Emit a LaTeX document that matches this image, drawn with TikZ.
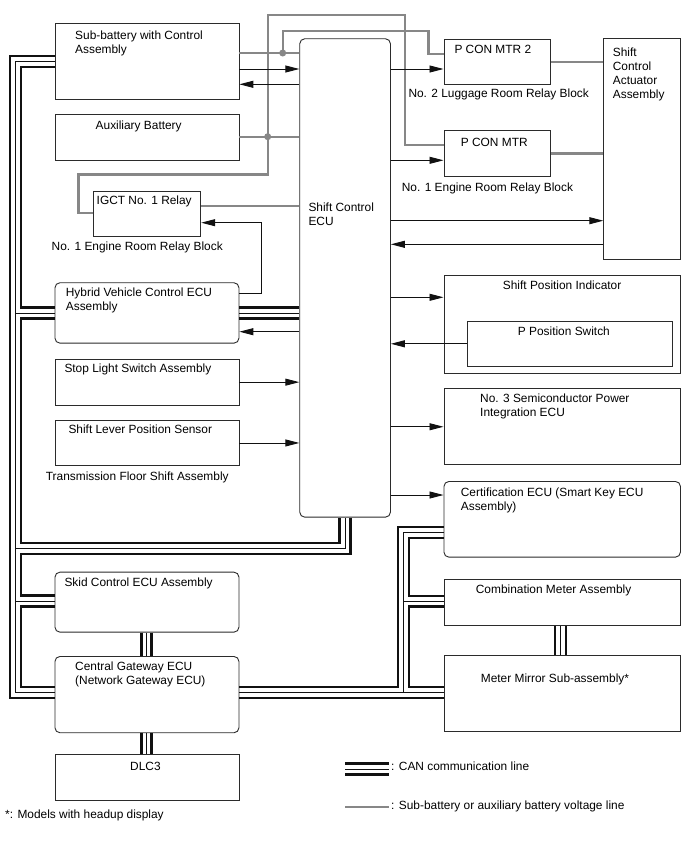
\documentclass[tikz,border=0pt]{standalone}
\usepackage{fontspec}
\setmainfont{Liberation Sans}
\usepackage{xcolor}
\usepackage{tikz}
\usetikzlibrary{arrows.meta}
\definecolor{voltgray}{HTML}{878787}
\definecolor{wireblack}{HTML}{111111}
\definecolor{framegray}{HTML}{2B2B2B}
\tikzset{
  unitbox/.style={rectangle,draw=framegray,line width=0.9pt,anchor=north west,inner sep=0pt},
  ecubox/.style={unitbox,rounded corners=5pt},
  boxtext/.style={anchor=base west,inner sep=0pt,align=left,font={\fontsize{11.9}{14}\selectfont}},
  keytext/.style={boxtext,inner xsep=2.5pt},
  arrow/.style={-{Triangle[length=14pt,width=7pt]},line width=0.9pt,draw=wireblack},
  voltline/.style={line width=2.4pt,draw=voltgray},
  canwide/.style={line width=2.2pt,draw=wireblack},
  canthin/.style={line width=1pt,draw=wireblack},
  junction/.style={circle,fill=voltgray,inner sep=0pt,minimum size=7pt}
}

\begin{document}
\begin{tikzpicture}[x=1pt,y=-1pt]
\useasboundingbox[fill=white] (0,0) rectangle (688,852);

\node[unitbox,minimum width=184,minimum height=76] (sub) at (54.5,23.3) {};
\node[unitbox,minimum width=184,minimum height=46] (aux) at (54.5,114.3) {};
\node[unitbox,minimum width=107,minimum height=45.6] (igct) at (93.3,190.7) {};
\node[ecubox,minimum width=90.7,minimum height=478.4] (ecu) at (299.3,38.3) {};
\node[unitbox,minimum width=106.7,minimum height=45.3] (pcm2) at (443.5,38.7) {};
\node[unitbox,minimum width=106.7,minimum height=45.4] (pcm) at (443.5,130.3) {};
\node[unitbox,minimum width=76.7,minimum height=221] (act) at (603.3,38) {};
\node[ecubox,minimum width=184,minimum height=60.4] (hv) at (54.5,282.3) {};
\node[unitbox,minimum width=184,minimum height=46] (stop) at (54.5,358.7) {};
\node[unitbox,minimum width=184,minimum height=45.6] (lever) at (54.5,419.7) {};
\node[unitbox,minimum width=236.5,minimum height=98.3] (spi) at (443.5,275) {};
\node[unitbox,minimum width=205.6,minimum height=45.3] (pps) at (466.7,320.7) {};
\node[unitbox,minimum width=236.5,minimum height=76] (semi) at (443.5,388.3) {};
\node[ecubox,minimum width=236.5,minimum height=75.7] (cert) at (443.5,481) {};
\node[ecubox,minimum width=184,minimum height=60] (skid) at (54.5,571.7) {};
\node[ecubox,minimum width=184,minimum height=76.3] (gw) at (54.5,656) {};
\node[unitbox,minimum width=184,minimum height=45.7] (dlc) at (54.5,754.3) {};
\node[unitbox,minimum width=236.5,minimum height=45.7] (comb) at (443.5,579.3) {};
\node[unitbox,minimum width=236.5,minimum height=76] (mirror) at (443.5,655) {};

\node[boxtext] (sub-t) at (75,53.3) {Sub-battery with Control\\Assembly};
\node[boxtext] (aux-t) at (95.5,129.6) {Auxiliary Battery};
\node[boxtext] (igct-t) at (96.5,204.3) {IGCT No. 1 Relay};
\node[boxtext] (igct-c) at (51.5,250.3) {No. 1 Engine Room Relay Block};
\node[boxtext] (ecu-t) at (308.3,225.6) {Shift Control\\ECU};
\node[boxtext] (pcm2-t) at (454.3,53.6) {P CON MTR 2};
\node[boxtext] (pcm2-c) at (408.3,97) {No. 2 Luggage Room Relay Block};
\node[boxtext] (pcm-t) at (460.7,146.6) {P CON MTR};
\node[boxtext] (pcm-c) at (401.7,191.6) {No. 1 Engine Room Relay Block};
\node[boxtext] (act-t) at (612.7,98.5) {Shift\\Control\\Actuator\\Assembly};
\node[boxtext] (hv-t) at (65.7,310.6) {Hybrid Vehicle Control ECU\\Assembly};
\node[boxtext] (stop-t) at (64.3,372.6) {Stop Light Switch Assembly};
\node[boxtext] (lever-t) at (68.3,433.3) {Shift Lever Position Sensor};
\node[boxtext] (lever-c) at (45.7,480.3) {Transmission Floor Shift Assembly};
\node[boxtext] (spi-t) at (502.7,289.3) {Shift Position Indicator};
\node[boxtext] (pps-t) at (517.7,335.3) {P Position Switch};
\node[boxtext] (semi-t) at (480,416.6) {No. 3 Semiconductor Power\\Integration ECU};
\node[boxtext] (cert-t) at (460.7,510.6) {Certification ECU (Smart Key ECU\\Assembly)};
\node[boxtext] (skid-t) at (64.3,586.6) {Skid Control ECU Assembly};
\node[boxtext] (gw-t) at (75,684.3) {Central Gateway ECU\\(Network Gateway ECU)};
\node[boxtext] (dlc-t) at (130,770) {DLC3};
\node[boxtext] (comb-t) at (475.7,593.6) {Combination Meter Assembly};
\node[boxtext] (mirror-t) at (480.7,682) {Meter Mirror Sub-assembly*};
\node[keytext] (cankey) at (388.5,770.3) {: CAN communication line};
\node[keytext] (voltkey) at (388.5,809.3) {: Sub-battery or auxiliary battery voltage line};
\node[boxtext] (note) at (5,818.3) {*: Models with headup display};

\draw[voltline] (sub.east |- 0,53) -- (ecu.west |- 0,53);
\draw[voltline] (aux.east |- 0,136.7) -- (ecu.west |- 0,136.7);
\draw[voltline] (igct.east |- 0,206) -- (ecu.west |- 0,206);
\draw[voltline] (pcm2.east) -- (pcm2.east -| act.west);
\draw[voltline] (pcm.east) -- (pcm.east -| act.west);
\draw[voltline] (igct.west |- 0,212.7) -| (78.3,174.3) -| (267.7,15) -| (405,145) -- (pcm.west |- 0,145);
\node[junction] (j1) at (282.7,53) {};
\node[junction] (j2) at (267.7,136.7) {};
\draw[voltline] (j1.center) |- (428.3,31) |- (pcm2.west |- 0,54);

\draw[arrow] (sub.east |- 0,69) -- (ecu.west |- 0,69);
\draw[arrow] (ecu.west |- 0,84.3) -- (sub.east |- 0,84.3);
\draw[arrow] (ecu.east |- 0,69) -- (pcm2.west |- 0,69);
\draw[arrow] (ecu.east |- 0,160.3) -- (pcm.west |- 0,160.3);
\draw[arrow] (ecu.east |- 0,220.7) -- (act.west |- 0,220.7);
\draw[arrow] (act.west |- 0,244.3) -- (ecu.east |- 0,244.3);
\draw[arrow] (hv.east |- 0,293.3) -| (261,222.7) -- (igct.east |- 0,222.7);
\draw[arrow] (ecu.west |- 0,331.7) -- (hv.east |- 0,331.7);
\draw[arrow] (stop.east) -- (stop.east -| ecu.west);
\draw[arrow] (lever.east) -- (lever.east -| ecu.west);
\draw[arrow] (ecu.east |- 0,297.3) -- (spi.west |- 0,297.3);
\draw[arrow] (pps.west) -- (pps.west -| ecu.east);
\draw[arrow] (ecu.east |- semi.west) -- (semi.west);
\draw[arrow] (ecu.east |- 0,495) -- (cert.west |- 0,495);

\draw[canwide] (sub.west |- 0,56) -| (10,698) -- (gw.west |- 0,698);
\draw[canthin] (sub.west |- 0,61.5) -| (15.5,692.5) -- (gw.west |- 0,692.5);
\draw[canthin] (15.5,313) -- (hv.west |- 0,313);
\draw[canthin] (15.5,548.5) -| (ecu.south -| 345,0);
\draw[canthin] (15.5,601) -- (skid.west |- 0,601);
\draw[canwide] (sub.west |- 0,67) -| (21,307.5) -- (hv.west |- 0,307.5);
\draw[canwide] (hv.west |- 0,318.5) -| (21,543) -| (ecu.south -| 339.5,0);
\draw[canwide] (ecu.south -| 350.5,0) |- (21,554) |- (skid.west |- 0,595.5);
\draw[canwide] (skid.west |- 0,606.5) -| (21,687) -- (gw.west |- 0,687);
\foreach \y/\w in {307.5/canwide,313/canthin,318.5/canwide}
  \draw[\w] (hv.east |- 0,\y) -- (ecu.west |- 0,\y);
\foreach \x/\w in {141.5/canwide,146.5/canthin,151.5/canwide} {
  \draw[\w] (skid.south -| \x,0) -- (gw.north -| \x,0);
  \draw[\w] (gw.south -| \x,0) -- (dlc.north -| \x,0);
}
\foreach \x/\w in {555/canwide,560.5/canthin,566/canwide}
  \draw[\w] (comb.south -| \x,0) -- (mirror.north -| \x,0);
\draw[canwide] (gw.east |- 0,687) -| (398,527) -- (cert.west |- 0,527);
\draw[canthin] (gw.east |- 0,692.5) -- (mirror.west |- 0,692.5);
\draw[canthin] (403.5,692.5) |- (cert.west |- 0,532.5);
\draw[canthin] (403.5,601) -- (comb.west |- 0,601);
\draw[canwide] (gw.east |- 0,698) -- (mirror.west |- 0,698);
\draw[canwide] (cert.west |- 0,538) -| (409,596) -- (comb.west |- 0,596);
\draw[canwide] (comb.west |- 0,606.5) -| (409,687) -- (mirror.west |- 0,687);

\foreach \y/\w in {763.5/canwide,769/canthin,774.5/canwide}
  \draw[\w] (345,\y) -- (cankey.west |- 0,\y);
\draw[voltline] (345,806.7) -- (voltkey.west |- 0,806.7);
\end{tikzpicture}
\end{document}
